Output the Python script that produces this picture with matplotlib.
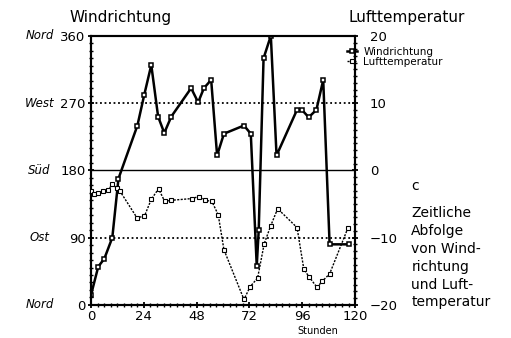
import matplotlib
matplotlib.use("agg")
import matplotlib.pyplot as plt
from matplotlib.ticker import MultipleLocator

# wind direction (degrees) over time (hours)
wind_hours = [0, 3.3, 6.1, 9.7, 12.5, 21.1, 24.2, 27.4, 30.5, 33.3, 36.5, 45.5,
              48.7, 51.3, 54.6, 57.3, 60.4, 69.5, 72.6, 75.3, 76.2, 78.4, 81.7,
              84.3, 93.6, 95.8, 98.9, 102.4, 105.5, 108.4, 117.0]
wind_deg = [13, 51, 62, 90, 169, 240, 281, 321, 252, 230, 252, 290,
            271, 290, 301, 200, 229, 240, 229, 52, 100, 330, 360,
            200, 261, 261, 251, 261, 301, 81, 81]

# air temperature (deg C) over time (hours)
temp_hours = [0, 1.5, 3.3, 5.6, 7.9, 9.7, 11.7, 13.2, 20.9, 24.3, 27.4, 30.7,
              33.5, 36.5, 45.7, 49.0, 51.7, 54.9, 57.8, 60.4, 69.5, 72.3, 75.7,
              78.7, 81.7, 84.8, 93.6, 96.7, 99.0, 102.7, 105.0, 108.4, 116.8]
temp_vals = [-3.1, -3.45, -3.35, -3.1, -2.85, -2.1, -2.6, -3.1, -7.05, -6.8,
             -4.3, -2.75, -4.6, -4.45, -4.2, -3.9, -4.45, -4.6, -6.6, -11.8,
             -19.2, -17.3, -16.0, -10.9, -8.2, -5.7, -8.5, -14.7, -15.8, -17.4,
             -16.5, -15.4, -8.5]

x_ticks = [0, 24, 48, 72, 96, 120]
deg_ticks = [0, 90, 180, 270, 360]
dir_names = ["Nord", "Ost", "Süd", "West", "Nord"]
temp_ticks = [-20, -10, 0, 10, 20]

plt.rcParams["font.family"] = "DejaVu Sans"

fig = plt.figure(figsize=(5.11, 3.38), dpi=100)
ax = fig.add_axes([0.178, 0.098, 0.517, 0.796])
ax2 = ax.twinx()

ax.axhline(180, color="black", lw=1.0)
for level in (90, 270):
    ax.axhline(level, color="black", lw=1.3, ls=(0, (1, 1.5)))

wind_line, = ax.plot(wind_hours, wind_deg, color="black", lw=1.8, marker="s",
                     ms=3.3, mfc="white", mec="black", mew=1.1, zorder=3)
temp_line, = ax2.plot(temp_hours, temp_vals, color="black", lw=1.0,
                      ls=(0, (1.5, 1)), marker="s", ms=2.8, mfc="white",
                      mec="black", mew=0.8, zorder=3)

ax.set_xlim(0, 120)
ax.set_ylim(0, 360)
ax2.set_ylim(-20, 20)
ax.set_xticks(x_ticks)
ax.set_yticks(deg_ticks)
ax2.set_yticks(temp_ticks)
ax.xaxis.set_minor_locator(MultipleLocator(3))
ax.yaxis.set_minor_locator(MultipleLocator(10))
ax2.yaxis.set_minor_locator(MultipleLocator(1))

for a in (ax, ax2):
    for side in a.spines.values():
        side.set_linewidth(1.5)
ax.tick_params(which="major", direction="inout", length=5, width=1.3,
               labelsize=9.5, pad=1.5)
ax.tick_params(which="minor", direction="inout", length=3, width=1.0)
ax2.tick_params(which="major", direction="inout", length=5, width=1.3,
                labelsize=9.5, pad=8)
ax2.tick_params(which="minor", direction="inout", length=3, width=1.0)

for deg, name in zip(deg_ticks, dir_names):
    ax.text(-0.195, deg, name, transform=ax.get_yaxis_transform(),
            ha="center", va="center", fontsize=8.5, style="italic")

ax.text(0.86, -0.098, "Stunden", transform=ax.transAxes, ha="center",
        va="center", fontsize=7)

fig.text(0.235, 0.948, "Windrichtung", ha="center", va="center", fontsize=11)
fig.text(0.795, 0.948, "Lufttemperatur", ha="center", va="center", fontsize=11)

fig.legend([wind_line, temp_line], ["Windrichtung", "Lufttemperatur"],
           loc="upper left", bbox_to_anchor=(0.66, 0.89), frameon=False,
           fontsize=7.5, handlelength=1.0, handletextpad=0.6,
           labelspacing=0.05, markerscale=0.9)

fig.text(0.805, 0.45, "c", ha="left", va="center", fontsize=10)
fig.text(0.805, 0.39, "Zeitliche\nAbfolge\nvon Wind-\nrichtung\nund Luft-\ntemperatur",
         ha="left", va="top", fontsize=10, linespacing=1.35)

fig.savefig("out.png", dpi=100)
